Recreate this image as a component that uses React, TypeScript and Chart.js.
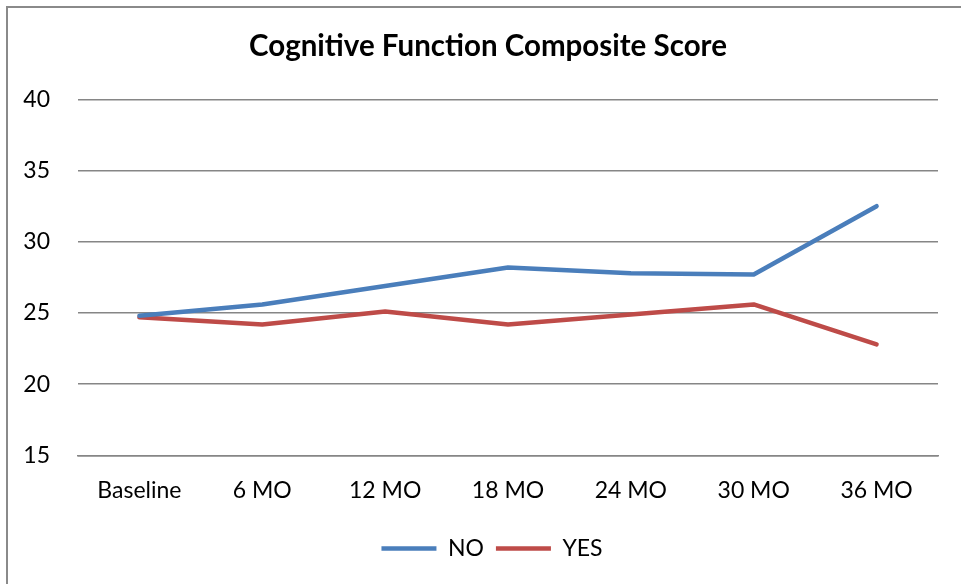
import React, { useEffect, useRef } from "react";
import { Chart, registerables } from "chart.js";

Chart.register(...registerables);

const categories = ["Baseline", "6 MO", "12 MO", "18 MO", "24 MO", "30 MO", "36 MO"];
const noValues = [24.8, 25.6, 26.9, 28.2, 27.8, 27.7, 32.5];
const yesValues = [24.7, 24.2, 25.1, 24.2, 24.9, 25.6, 22.8];
const yTicks = [15, 20, 25, 30, 35, 40];
const titleText = "Cognitive Function Composite Score";

const FONT = "Lato, 'Open Sans', sans-serif";

const shiftBlocks = {
  id: "shiftBlocks",
  afterLayout(chart: any) {
    const t = chart.titleBlock;
    if (t) {
      t.left += 19;
      t.right += 19;
    }
    const l = chart.legend;
    if (l) {
      l.left += 23;
      l.right += 23;
    }
  },
};

export default function App() {
  const ref = useRef<HTMLCanvasElement | null>(null);

  useEffect(() => {
    if (!ref.current) return;
    const chart = new Chart(ref.current, {
      type: "line",
      data: {
        labels: categories,
        datasets: [
          {
            label: "NO",
            data: noValues,
            borderColor: "#4A7EBB",
            backgroundColor: "#4A7EBB",
            borderWidth: 4.5,
            pointRadius: 0,
            borderCapStyle: "round",
            borderJoinStyle: "round",
            tension: 0,
          },
          {
            label: "YES",
            data: yesValues,
            borderColor: "#BE4B48",
            backgroundColor: "#BE4B48",
            borderWidth: 4.5,
            pointRadius: 0,
            borderCapStyle: "round",
            borderJoinStyle: "round",
            tension: 0,
          },
        ],
      },
      plugins: [shiftBlocks],
      options: {
        animation: false,
        responsive: false,
        maintainAspectRatio: false,
        layout: { padding: { left: 0, right: 23, top: 0, bottom: 14 } },
        plugins: {
          title: {
            display: true,
            text: titleText,
            color: "#000",
            font: { family: FONT, size: 29.5, weight: "bold", lineHeight: 1.2 },
            padding: { top: 29, bottom: 35 },
          },
          legend: {
            display: true,
            position: "bottom",
            labels: {
              color: "#000",
              font: { family: FONT, size: 23 },
              usePointStyle: true,
              pointStyle: "line",
              pointStyleWidth: 55,
              boxHeight: 23,
              padding: 12,
            },
          },
          tooltip: { enabled: false },
        },
        scales: {
          x: {
            offset: true,
            grid: { display: false, drawTicks: false },
            border: { display: true, color: "#868686", width: 1.5 },
            ticks: {
              color: "#000",
              font: { family: FONT, size: 23, lineHeight: 1.2 },
              padding: 21,
              maxRotation: 0,
            },
          },
          y: {
            min: 15,
            max: 40,
            afterBuildTicks: (axis: any) => {
              axis.ticks = yTicks.map((v) => ({ value: v }));
            },
            afterFit: (axis: any) => {
              axis.width = 78;
            },
            grid: { color: "#868686", lineWidth: 1.5, drawTicks: false },
            border: { display: false },
            ticks: {
              color: "#000",
              font: { family: FONT, size: 23 },
              padding: 28,
            },
          },
        },
      },
    });
    return () => chart.destroy();
  }, []);

  return (
    <div style={{ position: "fixed", left: 0, top: 0, width: 961, height: 584, overflow: "hidden", background: "#fff" }}>
      <div
        style={{
          position: "absolute",
          left: 6,
          top: 6,
          width: 1200,
          height: 1200,
          borderLeft: "2px solid #8a8a8a",
          borderTop: "2px solid #8a8a8a",
        }}
      />
      <canvas ref={ref} width={961} height={584} style={{ position: "absolute", left: 0, top: 0 }} />
    </div>
  );
}
